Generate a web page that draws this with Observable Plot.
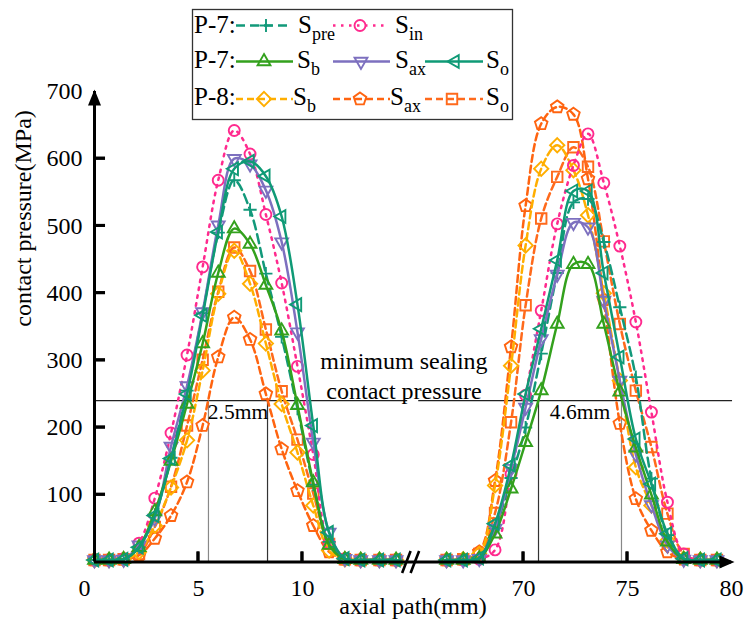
<!DOCTYPE html>
<html><head><meta charset="utf-8">
<script src="https://cdn.jsdelivr.net/npm/d3@7"></script>
<script src="https://cdn.jsdelivr.net/npm/@observablehq/plot@0.6"></script>
<style>
body{margin:0;background:#fff}
#wrap{position:relative;width:746px;height:632px;background:#fff}
#wrap svg text{font-family:'Liberation Serif','Times New Roman',serif !important}
#overlay{position:absolute;left:0;top:0;pointer-events:none}
</style>
</head><body><div id="wrap"></div>
<script>
// ---------------- data ----------------
const xLeft  = [0, 0.7, 1.4, 2.14, 2.9, 3.68, 4.45, 5.2, 5.95, 6.72, 7.48, 8.24, 9.0, 9.76, 10.52, 11.28, 12.04, 12.8, 13.7, 14.5];
const xRight = [66.3, 67.1, 67.87, 68.63, 69.4, 70.1, 70.85, 71.62, 72.4, 73.1, 73.86, 74.63, 75.4, 76.15, 76.92, 77.7, 78.5, 79.3];

const pre7L = [3,3,4,22,70,155,255,370,490,568,524,429,335,228,115,30,4,3,3,3];
const in7L  = [3,3,5,28,95,192,308,439,568,642,607,517,415,291,160,28,5,3,3,3];
const b7L   = [3,3,4,22,75,150,235,325,430,496,473,412,344,233,118,25,4,3,3,3];
const ax7L  = [3,3,4,25,65,172,262,372,501,600,592,553,476,342,178,44,5,3,3,3];
const o7L   = [3,3,4,22,69,154,250,367,491,585,596,574,514,383,203,44,5,3,3,3];
const b8L   = [3,3,4,15,54,111,181,285,399,463,414,325,235,163,84,17,4,3,3,3];
const ax8L  = [3,3,4,10,35,69,119,203,305,364,331,250,168,106,54,15,4,3,3,3];
const o8L   = [3,3,4,12,52,112,203,301,402,468,433,346,254,182,102,27,4,3,3,3];

const pre7R = [3,3,5,50,125,200,310,430,535,540,476,379,275,124,40,5,3,3];
const in7R  = [3,3,4,18,131,248,374,503,590,637,564,470,357,223,89,12,3,3];
const b7R   = [3,3,5,42,109,178,255,354,443,443,354,253,170,100,30,4,3,3];
const ax7R  = [3,3,5,50,139,230,332,428,505,498,389,270,160,85,25,4,3,3];
const o7R   = [3,3,6,57,144,250,347,449,552,552,430,305,183,116,42,5,3,3];
const b8R   = [3,4,12,114,292,471,585,620,583,516,400,270,141,84,32,5,3,3];
const ax8R  = [3,4,15,121,320,530,652,677,666,570,390,206,94,47,15,4,3,3];
const o8R   = [3,4,12,73,208,382,511,573,617,588,477,354,255,171,72,12,3,3];

const yTickValues = [100, 200, 300, 400, 500, 600, 700];
const xTickValues = [5, 10, 70, 75, 80];
const xOriginLabel = [0];
const threshold = 240;
const thresholdLabel = "minimum sealing\ncontact pressure";
const widthMarkers = [{x1: 5.48, x2: 8.32, label: "2.5mm"}, {x1: 70.72, x2: 74.71, label: "4.6mm"}];
const xTitle = "axial path(mm)";
const yTitle = "contact pressure(MPa)";

// ---------------- broken axis transform ----------------
const OFFSET = 49.37;                 // removed gap of the broken x axis
const tx = x => x > 40 ? x - OFFSET : x;
const breakAt = 15.2;                 // transformed position of the // mark
const thresholdSpans = [[0, 15.06], [64.96, 80.05]];
const yTickLen = 0.53, yTickHalf = 2.2;   // inward y ticks (~11px long, ~3px thick)
const xTickLen = 14.9, xTickHalf = 0.07;  // inward x ticks (~10px long, ~3px thick)

const FONT = "'Liberation Serif', 'Times New Roman', serif";

// ---------------- symbols ----------------
function regular(n, R, startDeg) {
  return d3.range(n).map(i => {
    const a = (startDeg + 360 * i / n) * Math.PI / 180;
    return [R * Math.cos(a), R * Math.sin(a)];
  });
}
function poly(ctx, pts) {
  ctx.moveTo(pts[0][0], pts[0][1]);
  for (let i = 1; i < pts.length; i++) ctx.lineTo(pts[i][0], pts[i][1]);
  ctx.closePath();
}
const rad = size => Math.sqrt(size / Math.PI);
const symCircle = {draw(c, s) { const r = rad(s); c.moveTo(r, 0); c.arc(0, 0, r, 0, 2 * Math.PI); }};
const symPlus = {draw(c, s) { const r = rad(s) * 1.2; c.moveTo(-r, 0); c.lineTo(r, 0); c.moveTo(0, -r); c.lineTo(0, r); }};
const symTriUp = {draw(c, s) { poly(c, regular(3, rad(s) * 1.35, -90)); }};
const symTriDown = {draw(c, s) { poly(c, regular(3, rad(s) * 1.35, 90)); }};
const symTriLeft = {draw(c, s) { poly(c, regular(3, rad(s) * 1.35, 180)); }};
const symDiamond = {draw(c, s) { poly(c, regular(4, rad(s) * 1.3, -90)); }};
const symSquare = {draw(c, s) { poly(c, regular(4, rad(s) * 1.35, -45)); }};
const symPentagon = {draw(c, s) { poly(c, regular(5, rad(s) * 1.2, -90)); }};
const arrowUp = {draw(c) { c.moveTo(0, -2); c.lineTo(-6.5, 14); c.lineTo(6.5, 14); c.closePath(); }};
const arrowRight = {draw(c) { c.moveTo(3, 0); c.lineTo(-12, -6.5); c.lineTo(-12, 6.5); c.closePath(); }};
const slash = {draw(c) { c.moveTo(-8.5, 11); c.lineTo(0, -11); c.moveTo(0, 11); c.lineTo(8.5, -11); }};

// ---------------- series ----------------
const seriesList = [
  {key: "ax8",  left: ax8L,  right: ax8R,  color: "#ff6410", dash: "7,4",   sym: symPentagon, sub: "ax"},
  {key: "o8",   left: o8L,   right: o8R,   color: "#ff6a1c", dash: "7,4",   sym: symSquare,   sub: "o"},
  {key: "b8",   left: b8L,   right: b8R,   color: "#ffae00", dash: "7,4",   sym: symDiamond,  sub: "b"},
  {key: "in7",  left: in7L,  right: in7R,  color: "#ff2a8e", dash: "2.5,5.5", sym: symCircle, sub: "in"},
  {key: "pre7", left: pre7L, right: pre7R, color: "#12997a", dash: "9,5",   sym: symPlus,     sub: "pre"},
  {key: "ax7",  left: ax7L,  right: ax7R,  color: "#7d70bf", dash: null,    sym: symTriDown,  sub: "ax"},
  {key: "b7",   left: b7L,   right: b7R,   color: "#33a11d", dash: null,    sym: symTriUp,    sub: "b"},
  {key: "o7",   left: o7L,   right: o7R,   color: "#0f9a76", dash: null,    sym: symTriLeft,  sub: "o"}
];

const marks = [];
// threshold line and annotations
marks.push(Plot.ruleY(thresholdSpans, {y: () => threshold, x1: d => tx(d[0]), x2: d => tx(d[1]), stroke: "#222", strokeWidth: 1.2}));
marks.push(Plot.text([thresholdLabel], {x: () => breakAt - 0.32, y: () => threshold, text: d => d, lineAnchor: "bottom", lineHeight: 1.22, dy: -2, fontSize: 24, fontFamily: FONT, fill: "black"}));
marks.push(Plot.ruleX(widthMarkers.flatMap(m => [{x: m.x1, c: m.x1 < 40 ? "#888" : "#333"}, {x: m.x2, c: m.x1 < 40 ? "#333" : "#888"}]),
  {x: d => tx(d.x), y1: 0, y2: threshold, stroke: d => d.c, strokeWidth: 1.2}));
marks.push(Plot.text(widthMarkers, {x: d => (tx(d.x1) + tx(d.x2)) / 2, y: () => threshold, text: "label", lineAnchor: "top", dy: 3, fontSize: 21.5, fontFamily: FONT, fill: "black"}));

// series
for (const s of seriesList) {
  const rows = [];
  xLeft.forEach((x, i) => rows.push({seg: "L", x: tx(x), y: s.left[i]}));
  xRight.forEach((x, i) => rows.push({seg: "R", x: tx(x), y: s.right[i]}));
  marks.push(Plot.line(rows, {x: "x", y: "y", z: "seg", stroke: s.color, strokeWidth: 2.5,
    strokeDasharray: s.dash, curve: "catmull-rom"}));
  marks.push(Plot.dot(rows, {x: "x", y: "y", symbol: s.sym, r: 5.5, stroke: s.color, strokeWidth: 1.9, fill: "none"}));
}

// axes
marks.push(Plot.ruleY([0], {stroke: "black", strokeWidth: 3}));
marks.push(Plot.ruleX([0], {stroke: "black", strokeWidth: 3}));
marks.push(Plot.dot([700], {x: () => 0, y: d => d, symbol: arrowUp, fill: "black", stroke: "none", r: 5}));
marks.push(Plot.dot([80], {x: d => tx(d), y: () => 0, symbol: arrowRight, fill: "black", stroke: "none", r: 5}));
marks.push(Plot.dot([breakAt], {x: d => d, y: () => 0, symbol: slash, stroke: "black", strokeWidth: 2.6, fill: "none", r: 5}));
// inward tick marks as thin filled rectangles
marks.push(Plot.rect(yTickValues.filter(d => d < 700), {x1: () => 0, x2: () => yTickLen, y1: d => d - yTickHalf, y2: d => d + yTickHalf, fill: "black"}));
marks.push(Plot.rect(xTickValues.filter(d => d < 80), {x1: d => tx(d) - xTickHalf, x2: d => tx(d) + xTickHalf, y1: () => 0, y2: () => xTickLen, fill: "black"}));
// tick labels
marks.push(Plot.text(yTickValues, {x: () => 0, y: d => d, text: d => String(d), textAnchor: "end", dx: -12, fontSize: 24, fontFamily: FONT, fill: "black"}));
marks.push(Plot.text(xTickValues, {x: d => tx(d), y: () => 0, text: d => String(d), lineAnchor: "top", dy: 16.5, fontSize: 24, fontFamily: FONT, fill: "black"}));
marks.push(Plot.text(xOriginLabel, {x: d => d, y: () => 0, text: d => String(d), lineAnchor: "top", dx: -10, dy: 16.5, fontSize: 24, fontFamily: FONT, fill: "black"}));
marks.push(Plot.text([yTitle], {frameAnchor: "left", rotate: -90, dx: -71, text: d => d, fontSize: 24, fontFamily: FONT, fill: "black"}));
marks.push(Plot.text([xTitle], {frameAnchor: "bottom", dy: 51.5, text: d => d, fontSize: 24, fontFamily: FONT, fill: "black"}));

const chart = Plot.plot({
  width: 746, height: 632,
  marginLeft: 94, marginRight: 15, marginTop: 91, marginBottom: 70.5,
  x: {domain: [0, tx(80)], axis: null},
  y: {domain: [0, 700], axis: null},
  style: {fontFamily: FONT, background: "white"},
  marks
});
const wrap = document.getElementById("wrap");
wrap.appendChild(chart);

// ---------------- overlay: inward ticks (via the chart's scales) + legend ----------------
const sx = chart.scale("x"), sy = chart.scale("y");
const ov = d3.select(wrap).append("svg").attr("id", "overlay").attr("width", 746).attr("height", 632)
  .style("font-family", FONT);
const x0 = sx.apply(0), y0 = sy.apply(0);
ov.append("g").attr("stroke", "black").attr("stroke-width", 3)
  .selectAll("line").data(yTickValues.filter(d => d < 700)).join("line")
  .attr("x1", x0).attr("x2", x0 + 11).attr("y1", d => sy.apply(d)).attr("y2", d => sy.apply(d));
ov.append("g").attr("stroke", "black").attr("stroke-width", 3)
  .selectAll("line").data(xTickValues.filter(d => d < 80)).join("line")
  .attr("x1", d => sx.apply(tx(d))).attr("x2", d => sx.apply(tx(d))).attr("y1", y0).attr("y2", y0 - 10);

const byKey = Object.fromEntries(seriesList.map(s => [s.key, s]));
const legendRows = [
  {label: "P-7:", base: 33, sy: 25.5, items: [
    {key: "pre7", x1: 236, x2: 292, mx: 266, tx: 298},
    {key: "in7",  x1: 333, x2: 388, mx: 360, tx: 395}]},
  {label: "P-7:", base: 68, sy: 61.5, items: [
    {key: "b7",  x1: 236, x2: 293, mx: 264, tx: 297},
    {key: "ax7", x1: 333, x2: 390, mx: 361, tx: 395},
    {key: "o7",  x1: 425, x2: 483, mx: 455, tx: 486}]},
  {label: "P-8:", base: 105, sy: 99, items: [
    {key: "b8",  x1: 236, x2: 293, mx: 264, tx: 293},
    {key: "ax8", x1: 333, x2: 390, mx: 360, tx: 390},
    {key: "o8",  x1: 425, x2: 483, mx: 452, tx: 486}]}
];
ov.append("rect").attr("x", 192.5).attr("y", 9.5).attr("width", 320).attr("height", 110)
  .attr("fill", "white").attr("stroke", "#333").attr("stroke-width", 1.3);
for (const row of legendRows) {
  ov.append("text").attr("x", 194).attr("y", row.base).attr("font-size", 25).text(row.label);
  for (const it of row.items) {
    const s = byKey[it.key];
    ov.append("line").attr("x1", it.x1).attr("x2", it.x2).attr("y1", row.sy).attr("y2", row.sy)
      .attr("stroke", s.color).attr("stroke-width", 2.5).attr("stroke-dasharray", s.dash);
    const p = d3.path(); s.sym.draw(p, Math.PI * 5.5 * 5.5);
    ov.append("path").attr("d", p.toString()).attr("transform", `translate(${it.mx},${row.sy})`)
      .attr("fill", "none").attr("stroke", s.color).attr("stroke-width", 1.9);
    const t = ov.append("text").attr("x", it.tx).attr("y", row.base).attr("font-size", 25);
    t.append("tspan").text("S");
    t.append("tspan").attr("font-size", 18).attr("dy", 7).text(s.sub);
  }
}
</script>
</body></html>
